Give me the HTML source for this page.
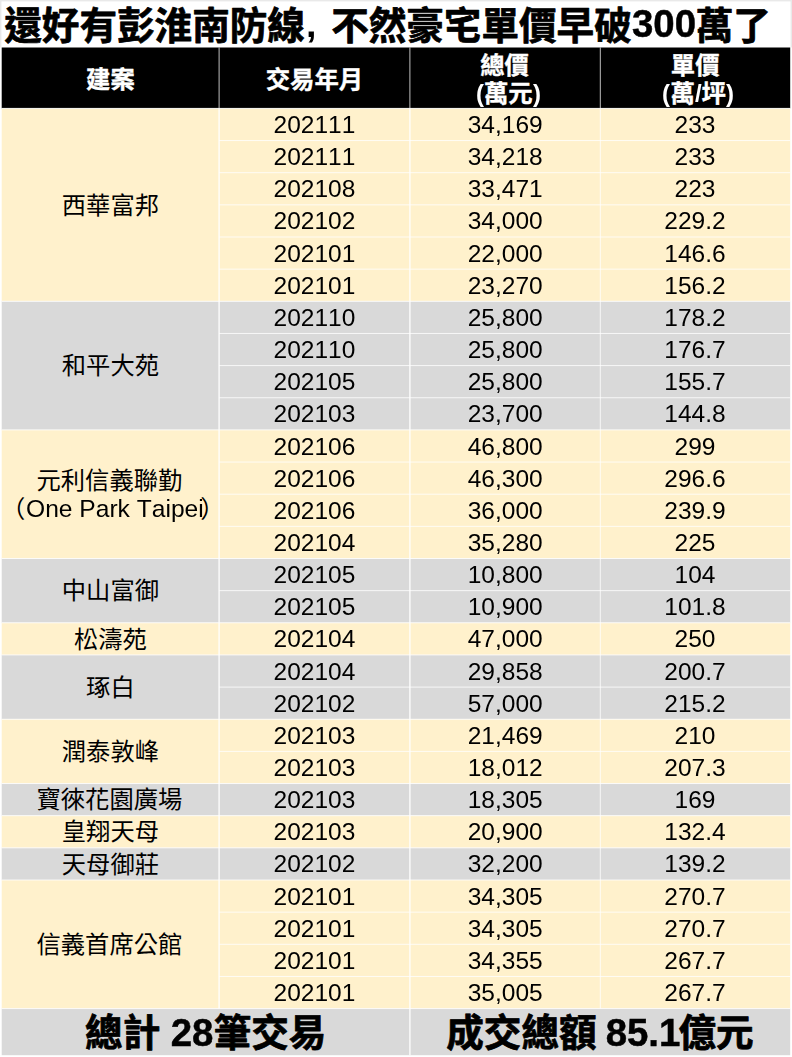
<!DOCTYPE html>
<html lang="zh-Hant"><head><meta charset="utf-8"><title>豪宅交易</title>
<style>
html,body{margin:0;padding:0;background:#fff}
body{width:792px;height:1057px;position:relative;overflow:hidden;font-family:"Liberation Sans",sans-serif;font-size:24.5px;color:#000;font-kerning:none;font-variant-ligatures:none}
svg{position:absolute;left:0;top:0}
svg text{font-family:"Liberation Sans","Noto Sans CJK TC",sans-serif}
.t{position:absolute;text-align:center;white-space:nowrap;will-change:transform}
.b{font-weight:bold}
.w{color:#fff}
</style></head><body>
<svg width="792" height="1057" viewBox="0 0 792 1057">
<rect x="0" y="0" width="792" height="1057" fill="#fff"/><rect x="0" y="0" width="792" height="1.4" fill="#e9e9e9"/><rect x="0" y="0" width="1.4" height="47.5" fill="#e9e9e9"/><rect x="790.6" y="0" width="1.4" height="47.5" fill="#e9e9e9"/><rect x="1.7" y="47.5" width="788.5" height="60.900000000000006" fill="#000"/><rect x="1.7" y="108.40" width="788.5" height="192.90" fill="#FFF1CC"/><rect x="1.7" y="301.30" width="788.5" height="128.60" fill="#D9D9D9"/><rect x="1.7" y="429.90" width="788.5" height="128.60" fill="#FFF1CC"/><rect x="1.7" y="558.50" width="788.5" height="64.30" fill="#D9D9D9"/><rect x="1.7" y="622.80" width="788.5" height="32.15" fill="#FFF1CC"/><rect x="1.7" y="654.95" width="788.5" height="64.30" fill="#D9D9D9"/><rect x="1.7" y="719.25" width="788.5" height="64.30" fill="#FFF1CC"/><rect x="1.7" y="783.55" width="788.5" height="32.15" fill="#D9D9D9"/><rect x="1.7" y="815.70" width="788.5" height="32.15" fill="#FFF1CC"/><rect x="1.7" y="847.85" width="788.5" height="32.15" fill="#D9D9D9"/><rect x="1.7" y="880.00" width="788.5" height="128.60" fill="#FFF1CC"/><rect x="1.7" y="1008.60" width="788.5" height="46.60" fill="#D9D9D9"/><path d="M219.10 108.40L219.10 1008.60M409.90 108.40L409.90 1008.60M409.90 1008.60L409.90 1055.20" stroke="#fff" stroke-opacity=".9" stroke-width="1.4" fill="none"/><path d="M219.10 108.40L790.20 108.40M219.10 140.55L790.20 140.55M219.10 172.70L790.20 172.70M219.10 204.85L790.20 204.85M219.10 237.00L790.20 237.00M219.10 269.15L790.20 269.15M219.10 301.30L790.20 301.30M219.10 333.45L790.20 333.45M219.10 365.60L790.20 365.60M219.10 397.75L790.20 397.75M219.10 429.90L790.20 429.90M219.10 462.05L790.20 462.05M219.10 494.20L790.20 494.20M219.10 526.35L790.20 526.35M219.10 558.50L790.20 558.50M219.10 590.65L790.20 590.65M219.10 622.80L790.20 622.80M219.10 654.95L790.20 654.95M219.10 687.10L790.20 687.10M219.10 719.25L790.20 719.25M219.10 751.40L790.20 751.40M219.10 783.55L790.20 783.55M219.10 815.70L790.20 815.70M219.10 847.85L790.20 847.85M219.10 880.00L790.20 880.00M219.10 912.15L790.20 912.15M219.10 944.30L790.20 944.30M219.10 976.45L790.20 976.45M219.10 1008.60L790.20 1008.60M1.70 108.40L219.10 108.40M1.70 301.30L219.10 301.30M1.70 429.90L219.10 429.90M1.70 558.50L219.10 558.50M1.70 622.80L219.10 622.80M1.70 654.95L219.10 654.95M1.70 719.25L219.10 719.25M1.70 783.55L219.10 783.55M1.70 815.70L219.10 815.70M1.70 847.85L219.10 847.85M1.70 880.00L219.10 880.00M1.70 1008.60L219.10 1008.60M600.30 108.40L600.30 1008.60" stroke="#fff" stroke-opacity=".8" stroke-width="1.0" fill="none"/><path d="M219.10 47.50V108.40M409.90 47.50V108.40M600.30 47.50V108.40" stroke="#fff" stroke-opacity=".75" stroke-width="1.0" fill="none"/>
<g fill="#000" stroke="#000" stroke-width="0.75" stroke-linejoin="round" font-size="37.6" font-weight="bold" aria-label="還好有彭淮南防線, 不然豪宅單價早破300萬了"><title>還好有彭淮南防線, 不然豪宅單價早破300萬了</title><text x="4.30" y="38.50">還好有彭淮南防線</text><text x="331.15" y="38.50">不然豪宅單價早破</text><text x="695.70" y="38.50">萬了</text></g>
<g fill="#fff" stroke="#fff" stroke-width="0.34" stroke-linejoin="round" font-size="24.4" font-weight="bold"><text x="86.00" y="87.75">建案</text><text x="265.70" y="87.75">交易年月</text><text x="480.20" y="73.75">總價</text><text x="670.85" y="73.75">單價</text><text x="483.90" y="101.75">萬元</text><text x="670.41" y="101.75">萬</text><text x="701.48" y="101.75">坪</text></g>
<g fill="#000" font-size="24.3"><text x="61.80" y="213.55">西華富邦</text><text x="61.80" y="374.30">和平大苑</text><text x="36.50" y="488.50">元利信義聯勤</text><text x="1.00" y="517.30">（</text><text x="200.30" y="517.30">）</text><text x="61.80" y="599.35">中山富御</text><text x="73.95" y="647.58">松濤苑</text><text x="86.10" y="695.80">琢白</text><text x="61.80" y="760.10">潤泰敦峰</text><text x="36.50" y="808.33">寶徠花園廣場</text><text x="61.80" y="840.47">皇翔天母</text><text x="61.80" y="872.62">天母御莊</text><text x="36.50" y="953.00">信義首席公館</text></g>
<g fill="#000" stroke="#000" stroke-width="0.75" stroke-linejoin="round" font-size="37.6" font-weight="bold"><text x="85.11" y="1046.00">總計</text><text x="213.69" y="1046.00">筆交易</text><text x="446.25" y="1046.00">成交總額</text><text x="678.45" y="1046.00">億元</text></g>
</svg>
<div class="t b" style="left:306.2px;top:1px;height:47px;line-height:47px;font-size:37.6px;text-align:left">,</div>
<div class="t b" style="left:632.4px;top:0.3px;height:47px;line-height:47px;font-size:38.4px;text-align:left;-webkit-text-stroke:.5px #000">300</div>
<div class="t b w" style="left:465.90px;width:18px;text-align:right;top:79.75px;height:28px;line-height:28px;font-size:24px">(</div>
<div class="t b w" style="left:532.70px;width:18px;text-align:left;top:79.75px;height:28px;line-height:28px;font-size:24px">)</div>
<div class="t b w" style="left:652.41px;width:18px;text-align:right;top:79.75px;height:28px;line-height:28px;font-size:24px">(</div>
<div class="t b w" style="left:688.81px;width:18.67px;top:79.75px;height:28px;line-height:28px;font-size:24px">/</div>
<div class="t b w" style="left:725.88px;width:18px;text-align:left;top:79.75px;height:28px;line-height:28px;font-size:24px">)</div>
<div class="t" style="left:25.6px;text-align:left;top:495.10px;height:28px;line-height:28px;font-size:24.6px">One Park Taipei</div>
<div class="t" style="left:219.10px;width:190.80px;top:109.00px;height:32.15px;line-height:32.15px">202111</div>
<div class="t" style="left:409.90px;width:190.40px;top:109.00px;height:32.15px;line-height:32.15px">34,169</div>
<div class="t" style="left:600.30px;width:189.90px;top:109.00px;height:32.15px;line-height:32.15px">233</div>
<div class="t" style="left:219.10px;width:190.80px;top:141.15px;height:32.15px;line-height:32.15px">202111</div>
<div class="t" style="left:409.90px;width:190.40px;top:141.15px;height:32.15px;line-height:32.15px">34,218</div>
<div class="t" style="left:600.30px;width:189.90px;top:141.15px;height:32.15px;line-height:32.15px">233</div>
<div class="t" style="left:219.10px;width:190.80px;top:173.30px;height:32.15px;line-height:32.15px">202108</div>
<div class="t" style="left:409.90px;width:190.40px;top:173.30px;height:32.15px;line-height:32.15px">33,471</div>
<div class="t" style="left:600.30px;width:189.90px;top:173.30px;height:32.15px;line-height:32.15px">223</div>
<div class="t" style="left:219.10px;width:190.80px;top:205.45px;height:32.15px;line-height:32.15px">202102</div>
<div class="t" style="left:409.90px;width:190.40px;top:205.45px;height:32.15px;line-height:32.15px">34,000</div>
<div class="t" style="left:600.30px;width:189.90px;top:205.45px;height:32.15px;line-height:32.15px">229.2</div>
<div class="t" style="left:219.10px;width:190.80px;top:237.60px;height:32.15px;line-height:32.15px">202101</div>
<div class="t" style="left:409.90px;width:190.40px;top:237.60px;height:32.15px;line-height:32.15px">22,000</div>
<div class="t" style="left:600.30px;width:189.90px;top:237.60px;height:32.15px;line-height:32.15px">146.6</div>
<div class="t" style="left:219.10px;width:190.80px;top:269.75px;height:32.15px;line-height:32.15px">202101</div>
<div class="t" style="left:409.90px;width:190.40px;top:269.75px;height:32.15px;line-height:32.15px">23,270</div>
<div class="t" style="left:600.30px;width:189.90px;top:269.75px;height:32.15px;line-height:32.15px">156.2</div>
<div class="t" style="left:219.10px;width:190.80px;top:301.90px;height:32.15px;line-height:32.15px">202110</div>
<div class="t" style="left:409.90px;width:190.40px;top:301.90px;height:32.15px;line-height:32.15px">25,800</div>
<div class="t" style="left:600.30px;width:189.90px;top:301.90px;height:32.15px;line-height:32.15px">178.2</div>
<div class="t" style="left:219.10px;width:190.80px;top:334.05px;height:32.15px;line-height:32.15px">202110</div>
<div class="t" style="left:409.90px;width:190.40px;top:334.05px;height:32.15px;line-height:32.15px">25,800</div>
<div class="t" style="left:600.30px;width:189.90px;top:334.05px;height:32.15px;line-height:32.15px">176.7</div>
<div class="t" style="left:219.10px;width:190.80px;top:366.20px;height:32.15px;line-height:32.15px">202105</div>
<div class="t" style="left:409.90px;width:190.40px;top:366.20px;height:32.15px;line-height:32.15px">25,800</div>
<div class="t" style="left:600.30px;width:189.90px;top:366.20px;height:32.15px;line-height:32.15px">155.7</div>
<div class="t" style="left:219.10px;width:190.80px;top:398.35px;height:32.15px;line-height:32.15px">202103</div>
<div class="t" style="left:409.90px;width:190.40px;top:398.35px;height:32.15px;line-height:32.15px">23,700</div>
<div class="t" style="left:600.30px;width:189.90px;top:398.35px;height:32.15px;line-height:32.15px">144.8</div>
<div class="t" style="left:219.10px;width:190.80px;top:430.50px;height:32.15px;line-height:32.15px">202106</div>
<div class="t" style="left:409.90px;width:190.40px;top:430.50px;height:32.15px;line-height:32.15px">46,800</div>
<div class="t" style="left:600.30px;width:189.90px;top:430.50px;height:32.15px;line-height:32.15px">299</div>
<div class="t" style="left:219.10px;width:190.80px;top:462.65px;height:32.15px;line-height:32.15px">202106</div>
<div class="t" style="left:409.90px;width:190.40px;top:462.65px;height:32.15px;line-height:32.15px">46,300</div>
<div class="t" style="left:600.30px;width:189.90px;top:462.65px;height:32.15px;line-height:32.15px">296.6</div>
<div class="t" style="left:219.10px;width:190.80px;top:494.80px;height:32.15px;line-height:32.15px">202106</div>
<div class="t" style="left:409.90px;width:190.40px;top:494.80px;height:32.15px;line-height:32.15px">36,000</div>
<div class="t" style="left:600.30px;width:189.90px;top:494.80px;height:32.15px;line-height:32.15px">239.9</div>
<div class="t" style="left:219.10px;width:190.80px;top:526.95px;height:32.15px;line-height:32.15px">202104</div>
<div class="t" style="left:409.90px;width:190.40px;top:526.95px;height:32.15px;line-height:32.15px">35,280</div>
<div class="t" style="left:600.30px;width:189.90px;top:526.95px;height:32.15px;line-height:32.15px">225</div>
<div class="t" style="left:219.10px;width:190.80px;top:559.10px;height:32.15px;line-height:32.15px">202105</div>
<div class="t" style="left:409.90px;width:190.40px;top:559.10px;height:32.15px;line-height:32.15px">10,800</div>
<div class="t" style="left:600.30px;width:189.90px;top:559.10px;height:32.15px;line-height:32.15px">104</div>
<div class="t" style="left:219.10px;width:190.80px;top:591.25px;height:32.15px;line-height:32.15px">202105</div>
<div class="t" style="left:409.90px;width:190.40px;top:591.25px;height:32.15px;line-height:32.15px">10,900</div>
<div class="t" style="left:600.30px;width:189.90px;top:591.25px;height:32.15px;line-height:32.15px">101.8</div>
<div class="t" style="left:219.10px;width:190.80px;top:623.40px;height:32.15px;line-height:32.15px">202104</div>
<div class="t" style="left:409.90px;width:190.40px;top:623.40px;height:32.15px;line-height:32.15px">47,000</div>
<div class="t" style="left:600.30px;width:189.90px;top:623.40px;height:32.15px;line-height:32.15px">250</div>
<div class="t" style="left:219.10px;width:190.80px;top:655.55px;height:32.15px;line-height:32.15px">202104</div>
<div class="t" style="left:409.90px;width:190.40px;top:655.55px;height:32.15px;line-height:32.15px">29,858</div>
<div class="t" style="left:600.30px;width:189.90px;top:655.55px;height:32.15px;line-height:32.15px">200.7</div>
<div class="t" style="left:219.10px;width:190.80px;top:687.70px;height:32.15px;line-height:32.15px">202102</div>
<div class="t" style="left:409.90px;width:190.40px;top:687.70px;height:32.15px;line-height:32.15px">57,000</div>
<div class="t" style="left:600.30px;width:189.90px;top:687.70px;height:32.15px;line-height:32.15px">215.2</div>
<div class="t" style="left:219.10px;width:190.80px;top:719.85px;height:32.15px;line-height:32.15px">202103</div>
<div class="t" style="left:409.90px;width:190.40px;top:719.85px;height:32.15px;line-height:32.15px">21,469</div>
<div class="t" style="left:600.30px;width:189.90px;top:719.85px;height:32.15px;line-height:32.15px">210</div>
<div class="t" style="left:219.10px;width:190.80px;top:752.00px;height:32.15px;line-height:32.15px">202103</div>
<div class="t" style="left:409.90px;width:190.40px;top:752.00px;height:32.15px;line-height:32.15px">18,012</div>
<div class="t" style="left:600.30px;width:189.90px;top:752.00px;height:32.15px;line-height:32.15px">207.3</div>
<div class="t" style="left:219.10px;width:190.80px;top:784.15px;height:32.15px;line-height:32.15px">202103</div>
<div class="t" style="left:409.90px;width:190.40px;top:784.15px;height:32.15px;line-height:32.15px">18,305</div>
<div class="t" style="left:600.30px;width:189.90px;top:784.15px;height:32.15px;line-height:32.15px">169</div>
<div class="t" style="left:219.10px;width:190.80px;top:816.30px;height:32.15px;line-height:32.15px">202103</div>
<div class="t" style="left:409.90px;width:190.40px;top:816.30px;height:32.15px;line-height:32.15px">20,900</div>
<div class="t" style="left:600.30px;width:189.90px;top:816.30px;height:32.15px;line-height:32.15px">132.4</div>
<div class="t" style="left:219.10px;width:190.80px;top:848.45px;height:32.15px;line-height:32.15px">202102</div>
<div class="t" style="left:409.90px;width:190.40px;top:848.45px;height:32.15px;line-height:32.15px">32,200</div>
<div class="t" style="left:600.30px;width:189.90px;top:848.45px;height:32.15px;line-height:32.15px">139.2</div>
<div class="t" style="left:219.10px;width:190.80px;top:880.60px;height:32.15px;line-height:32.15px">202101</div>
<div class="t" style="left:409.90px;width:190.40px;top:880.60px;height:32.15px;line-height:32.15px">34,305</div>
<div class="t" style="left:600.30px;width:189.90px;top:880.60px;height:32.15px;line-height:32.15px">270.7</div>
<div class="t" style="left:219.10px;width:190.80px;top:912.75px;height:32.15px;line-height:32.15px">202101</div>
<div class="t" style="left:409.90px;width:190.40px;top:912.75px;height:32.15px;line-height:32.15px">34,305</div>
<div class="t" style="left:600.30px;width:189.90px;top:912.75px;height:32.15px;line-height:32.15px">270.7</div>
<div class="t" style="left:219.10px;width:190.80px;top:944.90px;height:32.15px;line-height:32.15px">202101</div>
<div class="t" style="left:409.90px;width:190.40px;top:944.90px;height:32.15px;line-height:32.15px">34,355</div>
<div class="t" style="left:600.30px;width:189.90px;top:944.90px;height:32.15px;line-height:32.15px">267.7</div>
<div class="t" style="left:219.10px;width:190.80px;top:977.05px;height:32.15px;line-height:32.15px">202101</div>
<div class="t" style="left:409.90px;width:190.40px;top:977.05px;height:32.15px;line-height:32.15px">35,005</div>
<div class="t" style="left:600.30px;width:189.90px;top:977.05px;height:32.15px;line-height:32.15px">267.7</div>
<div class="t b" style="left:160.31px;text-align:left;top:1008.70px;height:47px;line-height:47px;font-size:38.4px;white-space:pre;-webkit-text-stroke:.5px #000"> 28</div>
<div class="t b" style="left:595.35px;text-align:left;top:1008.70px;height:47px;line-height:47px;font-size:38.4px;white-space:pre;-webkit-text-stroke:.5px #000"> 85.1</div>
</body></html>
